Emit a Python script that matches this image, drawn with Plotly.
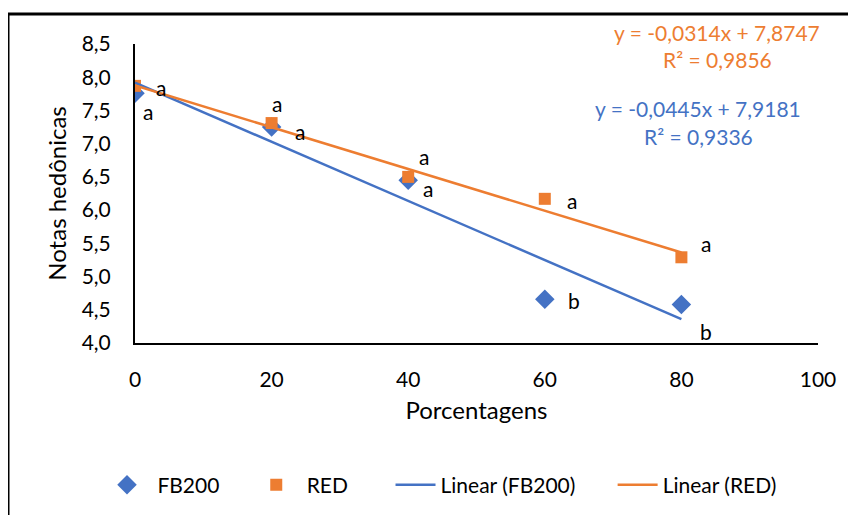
import plotly.graph_objects as go

# Data
x_vals = [0, 20, 40, 60, 80]
fb200 = [7.76, 7.25, 6.45, 4.66, 4.58]
red = [7.87, 7.31, 6.50, 6.17, 5.29]

fb200_slope, fb200_int = -0.0445, 7.9181
red_slope, red_int = -0.0314, 7.8747
fb200_eq = ["y = -0,0445x + 7,9181", "R² = 0,9336"]
red_eq = ["y = -0,0314x + 7,8747", "R² = 0,9856"]

fb200_letters = ["a", "a", "a", "b", "b"]
red_letters = ["a", "a", "a", "a", "a"]
# label positions (data coords)
fb200_lab_x = [1.9, 24.2, 42.9, 64.3, 83.6]
fb200_lab_y = [7.49, 7.19, 6.33, 4.64, 4.18]
red_lab_x = [3.8, 20.8, 42.3, 64.0, 83.6]
red_lab_y = [7.85, 7.61, 6.81, 6.15, 5.50]

x_ticks = [0, 20, 40, 60, 80, 100]
y_ticks = [4.0, 4.5, 5.0, 5.5, 6.0, 6.5, 7.0, 7.5, 8.0, 8.5]
y_ticktext = [f"{v:.1f}".replace(".", ",") for v in y_ticks]

legend_names = ["FB200", "RED", "Linear (FB200)", "Linear (RED)"]

BLUE = "#4472C4"
ORANGE = "#ED7D31"
FONT = "Lato"
FS = 21
NB = "\u00a0"

# page offset (body margin) and plot area in page pixels
OFF = 8
PL, PR, PT, PB = 135, 818, 44, 343
W, H = 856, 515

fig = go.Figure()
fig.add_trace(go.Scatter(x=x_vals, y=fb200, mode="markers", name=NB + legend_names[0] + NB * 5,
                         marker=dict(symbol="diamond", size=15, color=BLUE)))
fig.add_trace(go.Scatter(x=x_vals, y=red, mode="markers", name=NB + legend_names[1] + NB * 7,
                         marker=dict(symbol="square", size=12, color=ORANGE)))
tx = [x_vals[0], x_vals[-1]]
fig.add_trace(go.Scatter(x=tx, y=[fb200_int + fb200_slope * v for v in tx], mode="lines",
                         name=legend_names[2] + NB * 6, line=dict(color=BLUE, width=2.5)))
fig.add_trace(go.Scatter(x=tx, y=[red_int + red_slope * v for v in tx], mode="lines",
                         name=legend_names[3], line=dict(color=ORANGE, width=2.5)))

ann = []
for lx, ly, t in zip(fb200_lab_x, fb200_lab_y, fb200_letters):
    ann.append(dict(x=lx, y=ly, text=t, showarrow=False, xanchor="center", yanchor="middle",
                    font=dict(size=FS, color="black", family=FONT)))
for lx, ly, t in zip(red_lab_x, red_lab_y, red_letters):
    ann.append(dict(x=lx, y=ly, text=t, showarrow=False, xanchor="center", yanchor="middle",
                    font=dict(size=FS, color="black", family=FONT)))

def px_to_paper_x(p):
    return (p - PL) / float(PR - PL)

def px_to_paper_y(p):
    return (PB - p) / float(PB - PT)

for txt, cx, cy, col in [(red_eq[0], 717, 32, ORANGE), (red_eq[1], 717, 60, ORANGE),
                         (fb200_eq[0], 698, 108, BLUE), (fb200_eq[1], 698, 136, BLUE)]:
    ann.append(dict(x=px_to_paper_x(cx), y=px_to_paper_y(cy), xref="paper", yref="paper",
                    text=txt, showarrow=False, xanchor="center", yanchor="middle",
                    font=dict(size=FS, color=col, family=FONT)))

border = dict(type="line", xref="paper", yref="paper", line=dict(color="black", width=3),
              layer="above")
shapes = [
    dict(border, x0=px_to_paper_x(7), x1=px_to_paper_x(860), y0=px_to_paper_y(14), y1=px_to_paper_y(14)),
    dict(border, x0=px_to_paper_x(8), x1=px_to_paper_x(8), y0=px_to_paper_y(13), y1=px_to_paper_y(530)),
]

fig.update_layout(
    width=W, height=H,
    margin=dict(l=PL - OFF, r=W - (PR - OFF), t=PT - OFF, b=H - (PB - OFF)),
    paper_bgcolor="white", plot_bgcolor="white",
    font=dict(family=FONT, size=FS, color="black"),
    showlegend=True,
    legend=dict(orientation="h", x=px_to_paper_x(102), xanchor="left",
                y=px_to_paper_y(485), yanchor="middle",
                font=dict(size=FS, family=FONT), itemwidth=40, tracegroupgap=0),
    annotations=ann,
    shapes=shapes,
)
fig.update_xaxes(range=[0, 100], tickvals=x_ticks, ticktext=[str(v) for v in x_ticks],
                 showgrid=False, zeroline=False, showline=True, linecolor="black", linewidth=2,
                 ticks="outside", ticklen=17, tickcolor="rgba(0,0,0,0)",
                 tickfont=dict(size=FS, family=FONT),
                 title=dict(text="Porcentagens", font=dict(size=24, family=FONT), standoff=12))
fig.update_yaxes(range=[4.0, 8.5], tickvals=y_ticks, ticktext=y_ticktext,
                 showgrid=False, zeroline=False, showline=True, linecolor="black", linewidth=2,
                 ticks="outside", ticklen=18, tickcolor="rgba(0,0,0,0)",
                 tickfont=dict(size=FS, family=FONT),
                 title=dict(text="Notas hedônicas", font=dict(size=24, family=FONT), standoff=8))

fig.write_html("out.html")
